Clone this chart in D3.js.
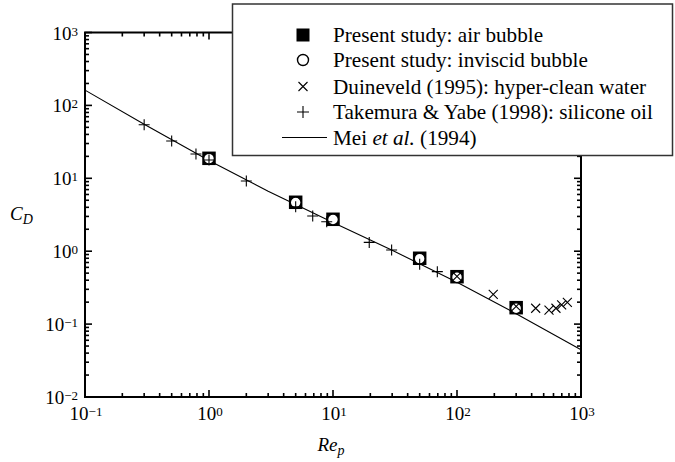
<!DOCTYPE html>
<html><head><meta charset="utf-8">
<script src="https://cdn.jsdelivr.net/npm/d3@7"></script>
<style>body{margin:0;background:#fff}svg{display:block}</style>
</head><body>
<svg id="c" width="675" height="462"></svg>
<script>
// Mei et al. (1994) curve
const meiRe = [0.1, 0.3, 1, 3, 10, 30, 100, 300, 1000];
const meiCd = [162, 55.1, 17.6, 6.63, 2.48, 1.03, 0.375, 0.139, 0.0445];
// Present study: air bubble
const airRe = [1, 5, 10, 50, 100, 300];
const airCd = [18.8, 4.69, 2.74, 0.80, 0.447, 0.168];
// Present study: inviscid bubble
const invRe = [1, 5, 10, 50, 100, 300];
const invCd = [18.6, 4.65, 2.72, 0.79, 0.44, 0.165];
// Duineveld (1995): hyper-clean water
const duiRe = [100, 196, 300, 431, 552, 628, 698, 776];
const duiCd = [0.45, 0.256, 0.175, 0.165, 0.156, 0.165, 0.183, 0.199];
// Takemura & Yabe (1998): silicone oil
const takRe = [0.3, 0.5, 0.785, 1, 2, 5, 6.86, 8.9, 19.6, 29.7, 50, 69.4];
const takCd = [54.3, 32.5, 21.5, 17.8, 9.18, 4.07, 3.04, 2.54, 1.32, 1.04, 0.66, 0.524];
// tick labels (exponents)
const xExp = [-1, 0, 1, 2, 3];
const yExp = [-2, -1, 0, 1, 2, 3];
const legendLabels = ["Present study: air bubble", "Present study: inviscid bubble",
  "Duineveld (1995): hyper-clean water", "Takemura & Yabe (1998): silicone oil"];

const FONT = "Liberation Serif";
const svg = d3.select("#c");
const x = d3.scaleLog().domain([0.1, 1000]).range([85, 581]);
const y = d3.scaleLog().domain([0.01, 1000]).range([397, 32.5]);
const X0 = x.range()[0], X1 = x.range()[1], Y0 = y.range()[0], Y1 = y.range()[1];

function txt(sel, px, py, size, anchor){
  return sel.append("text").attr("x",px).attr("y",py)
    .attr("font-family",FONT).attr("font-size",size)
    .attr("text-anchor",anchor||"start").attr("fill","#000");
}
function ts(t, s, size, dy, italic){
  const sp = t.append("tspan").text(s);
  if(size) sp.attr("font-size",size);
  if(dy) sp.attr("dy",dy);
  if(italic) sp.attr("font-style","italic");
  return sp;
}

// frame ticks (inward, all sides)
const g = svg.append("g");
function logTicks(sc){
  const out=[]; const [a,b]=sc.domain();
  for(let e=Math.round(Math.log10(a)); e<Math.round(Math.log10(b)); e++)
    for(let k=1;k<10;k++) out.push({v:k*Math.pow(10,e), major:k===1});
  out.push({v:b, major:true});
  return out;
}
logTicks(x).forEach(t=>{
  const L = t.major?7:4, px = x(t.v);
  g.append("line").attr("x1",px).attr("x2",px).attr("y1",Y0).attr("y2",Y0-L).attr("stroke","#000").attr("stroke-width",1.6);
  g.append("line").attr("x1",px).attr("x2",px).attr("y1",Y1).attr("y2",Y1+L).attr("stroke","#000").attr("stroke-width",1.6);
});
logTicks(y).forEach(t=>{
  const L = t.major?7:4, py = y(t.v);
  g.append("line").attr("x1",X0).attr("x2",X0+L).attr("y1",py).attr("y2",py).attr("stroke","#000").attr("stroke-width",1.6);
  g.append("line").attr("x1",X1).attr("x2",X1-L).attr("y1",py).attr("y2",py).attr("stroke","#000").attr("stroke-width",1.6);
});
g.append("rect").attr("x",X0).attr("y",Y1).attr("width",X1-X0).attr("height",Y0-Y1)
  .attr("fill","none").attr("stroke","#000").attr("stroke-width",2);

// tick labels
xExp.forEach(e=>{
  const t = txt(svg, x(Math.pow(10,e))+1, 420, 19, "middle");
  ts(t, "10");
  ts(t, e<0?"\u2212"+(-e):String(e), 13, -4);
});
yExp.forEach(e=>{
  const t = txt(svg, 78, y(Math.pow(10,e))+7, 19, "end");
  ts(t, "10");
  ts(t, e<0?"\u2212"+(-e):String(e), 13, -4);
});

// axis labels
const cl = txt(svg, 10, 220, 19);
ts(cl, "C", null, null, true);
ts(cl, "D", 14, 4, true);
const rl = txt(svg, 331, 451, 19, "middle");
ts(rl, "Re", null, null, true);
ts(rl, "p", 14, 4, true);

// Mei line
const plot = svg.append("g");
plot.append("path").datum(meiRe.map((r,i)=>[r,meiCd[i]]))
  .attr("d", d3.line().x(d=>x(d[0])).y(d=>y(d[1])))
  .attr("fill","none").attr("stroke","#000").attr("stroke-width",1.1);

// markers
function sq(sel, cx, cy, s){ sel.append("rect").attr("x",cx-s/2).attr("y",cy-s/2).attr("width",s).attr("height",s).attr("fill","#000"); }
function circ(sel, cx, cy, r){ sel.append("circle").attr("cx",cx).attr("cy",cy).attr("r",r).attr("fill","#fff").attr("stroke","#000").attr("stroke-width",1.4); }
function cross(sel, cx, cy, a){ sel.append("path").attr("d",`M${cx-a},${cy-a}L${cx+a},${cy+a}M${cx-a},${cy+a}L${cx+a},${cy-a}`).attr("stroke","#000").attr("stroke-width",1.1).attr("fill","none"); }
function plus(sel, cx, cy, a){ sel.append("path").attr("d",`M${cx-a},${cy}L${cx+a},${cy}M${cx},${cy-a}L${cx},${cy+a}`).attr("stroke","#000").attr("stroke-width",1.1).attr("fill","none"); }

airRe.forEach((r,i)=>sq(plot, x(r), y(airCd[i]), 13.5));
invRe.forEach((r,i)=>circ(plot, x(r), y(invCd[i]), 5.4));
duiRe.forEach((r,i)=>cross(plot, x(r), y(duiCd[i]), 4.5));
takRe.forEach((r,i)=>plus(plot, x(r), y(takCd[i]), 5.5));

// legend
const lg = svg.append("g");
lg.append("rect").attr("x",232.5).attr("y",4).attr("width",440).attr("height",151.5)
  .attr("fill","#fff").attr("stroke","#333").attr("stroke-width",1.5);
const rows = [35, 60, 86.5, 112, 137.5];
sq(lg, 303, rows[0], 13);
circ(lg, 303, rows[1], 5.5);
cross(lg, 303, rows[2], 4.5);
plus(lg, 303, rows[3], 6);
lg.append("line").attr("x1",282).attr("x2",327).attr("y1",rows[4]).attr("y2",rows[4]).attr("stroke","#000").attr("stroke-width",1.1);
legendLabels.forEach((s,i)=>{
  const t = txt(lg, 333, rows[i]+7, 21.2);
  ts(t, s);
});
const mt = txt(lg, 333, rows[4]+7, 21.2);
ts(mt, "Mei ");
ts(mt, "et al.", null, null, true);
ts(mt, " (1994)");
</script>
</body></html>
